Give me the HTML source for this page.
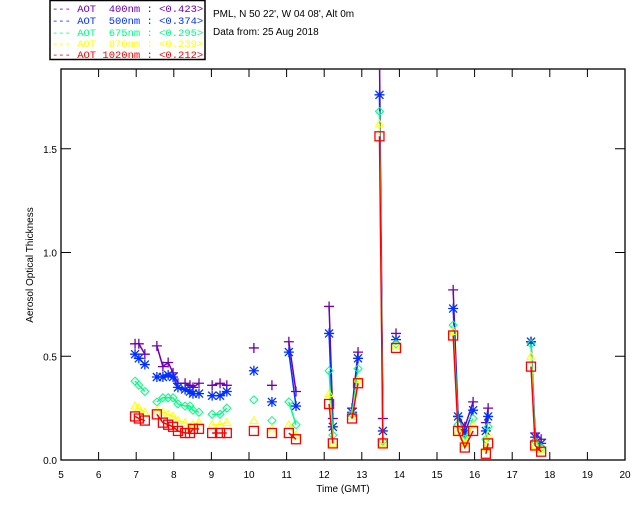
<!DOCTYPE html>
<html><head><meta charset="utf-8"><style>
body{margin:0;background:#fff;width:640px;height:512px;overflow:hidden;font-family:"Liberation Sans",sans-serif}
svg text{font-family:"Liberation Sans",sans-serif;font-size:10px}
svg text.lg{font-family:"Liberation Mono",monospace;font-size:10.5px}
</style></head><body>
<svg id="c" width="640" height="512">
<rect x="50" y="0.5" width="155" height="59" fill="#fff" stroke="#000" stroke-width="1.5"/>
<g>
<text class="lg" x="52" y="12" fill="#7000b0" xml:space="preserve">--- AOT  400nm : &lt;0.423&gt;</text>
<text class="lg" x="52" y="24" fill="#0030ff" xml:space="preserve">--- AOT  500nm : &lt;0.374&gt;</text>
<text class="lg" x="52" y="36" fill="#00ff80" xml:space="preserve">--- AOT  675nm : &lt;0.295&gt;</text>
<text class="lg" x="52" y="47" fill="#ffff00" xml:space="preserve">--- AOT  870nm : &lt;0.239&gt;</text>
<text class="lg" x="52" y="58" fill="#ff0000" xml:space="preserve">--- AOT 1020nm : &lt;0.212&gt;</text>
</g>
<text x="213" y="17">PML, N 50 22', W 04 08', Alt 0m</text>
<text x="213" y="35">Data from: 25 Aug 2018</text>
<text x="343" y="492" text-anchor="middle">Time (GMT)</text>
<text transform="translate(33,265) rotate(-90)" text-anchor="middle" font-size="9">Aerosol Optical Thickness</text>
<defs><clipPath id="pc"><rect x="61" y="69" width="564" height="392"/></clipPath></defs>
<g id="axes"></g>
<g id="marks" clip-path="url(#pc)"></g>
</svg>
<script>
const times=[6.97,7.07,7.23,7.55,7.71,7.85,7.98,8.11,8.30,8.43,8.51,8.67,9.02,9.23,9.41,10.13,10.61,11.06,11.25,12.13,12.23,12.74,12.90,13.47,13.56,13.91,15.43,15.56,15.74,15.96,16.30,16.36,17.50,17.61,17.77];
const aot400=[0.56,0.56,0.51,0.55,0.45,0.47,0.42,0.37,0.37,0.36,0.35,0.37,0.36,0.37,0.36,0.54,0.36,0.57,0.33,0.74,0.20,0.25,0.52,1.95,0.20,0.61,0.82,0.21,0.16,0.28,0.18,0.25,0.57,0.13,0.10];
const aot500=[0.51,0.49,0.46,0.40,0.40,0.41,0.40,0.35,0.34,0.33,0.32,0.32,0.31,0.31,0.33,0.43,0.28,0.52,0.26,0.61,0.16,0.23,0.49,1.76,0.14,0.58,0.73,0.21,0.13,0.24,0.14,0.21,0.57,0.11,0.08];
const aot675=[0.38,0.36,0.33,0.28,0.30,0.30,0.30,0.27,0.26,0.26,0.24,0.23,0.22,0.22,0.25,0.29,0.19,0.28,0.17,0.43,0.12,0.22,0.44,1.68,0.09,0.56,0.65,0.17,0.10,0.20,0.10,0.16,0.56,0.09,0.06];
const aot870=[0.26,0.25,0.23,0.24,0.23,0.22,0.21,0.19,0.18,0.16,0.17,0.18,0.17,0.17,0.18,0.19,0.15,0.17,0.12,0.32,0.08,0.21,0.39,1.62,0.08,0.55,0.62,0.14,0.08,0.17,0.06,0.12,0.50,0.07,0.05];
const aot1020=[0.21,0.20,0.19,0.22,0.18,0.17,0.16,0.14,0.13,0.13,0.15,0.15,0.13,0.13,0.13,0.14,0.13,0.13,0.10,0.27,0.08,0.20,0.37,1.56,0.08,0.54,0.60,0.14,0.06,0.14,0.03,0.08,0.45,0.07,0.04];
const xTicks=[5,6,7,8,9,10,11,12,13,14,15,16,17,18,19,20];
const yTicks=[0,0.5,1.0,1.5];
const yTickLabels=["0.0","0.5","1.0","1.5"];

const L=61,R=625,T=69,B=460;
const xS=t=>L+(t-5)*(R-L)/15;
const yS=v=>B-v*207.5;
const NS="http://www.w3.org/2000/svg";
function mk(tag,attrs,parent){const e=document.createElementNS(NS,tag);for(const k in attrs)e.setAttribute(k,attrs[k]);parent.appendChild(e);return e;}
const ax=document.getElementById('axes'),mg=document.getElementById('marks');
const frame=mk('rect',{x:L,y:T,width:R-L,height:B-T,fill:'none',stroke:'#000','stroke-width':1.3},ax);


xTicks.forEach(t=>{const x=xS(t);
 mk('line',{x1:x,x2:x,y1:B,y2:B-8,stroke:'#000'},ax);
 mk('line',{x1:x,x2:x,y1:T,y2:T+8,stroke:'#000'},ax);
 const tx=mk('text',{x:x,y:B+18,'text-anchor':'middle'},ax);tx.textContent=t;
 
 
});
yTicks.forEach((v,i)=>{const y=yS(v);
 mk('line',{x1:L,x2:L+10,y1:y,y2:y,stroke:'#000'},ax);
 mk('line',{x1:R,x2:R-10,y1:y,y2:y,stroke:'#000'},ax);
 const tx=mk('text',{x:L-4,y:y+4,'text-anchor':'end'},ax);tx.textContent=yTickLabels[i];
 
 
});
function marker(type,x,y,c,g){
 if(type==='plus'){mk('path',{d:`M${x-5},${y}H${x+5}M${x},${y-5}V${y+5}`,stroke:c,'stroke-width':1.3,fill:'none'},g);}
 else if(type==='star'){mk('path',{d:`M${x-5},${y}H${x+5}M${x},${y-5}V${y+5}M${x-4},${y-4}L${x+4},${y+4}M${x-4},${y+4}L${x+4},${y-4}`,stroke:c,'stroke-width':1.3,fill:'none'},g);}
 else if(type==='diamond'){mk('path',{d:`M${x},${y-4}L${x+4},${y}L${x},${y+4}L${x-4},${y}Z`,stroke:c,fill:'none'},g);}
 else if(type==='tri'){mk('path',{d:`M${x},${y-4}L${x+4},${y+3}L${x-4},${y+3}Z`,stroke:c,fill:'none'},g);}
 else {mk('rect',{x:x-4.5,y:y-4.5,width:9,height:9,stroke:c,fill:'none','stroke-width':1.3},g);}
}
const series=[[aot400,'#7000b0','plus','series-400nm'],[aot500,'#0030ff','star','series-500nm'],[aot675,'#00ff80','diamond','series-675nm'],[aot870,'#ffff00','tri','series-870nm'],[aot1020,'#ff0000','square','series-1020nm']];
series.forEach(([vals,c,type,name])=>{
 const g=mk('g',{},mg);
 
 
 let d='';
 for(let i=0;i<times.length;i++){
  const x=xS(times[i]),y=yS(vals[i]);
  if(i>0&&times[i]-times[i-1]<=0.3)d+=`L${x},${y}`;else d+=`M${x},${y}`;
 }
 const p=mk('path',{d:d,stroke:c,fill:'none','stroke-width':1.5},g);
 
 
 for(let i=0;i<times.length;i++)marker(type,xS(times[i]),yS(vals[i]),c,g);
});
</script>
</body></html>
